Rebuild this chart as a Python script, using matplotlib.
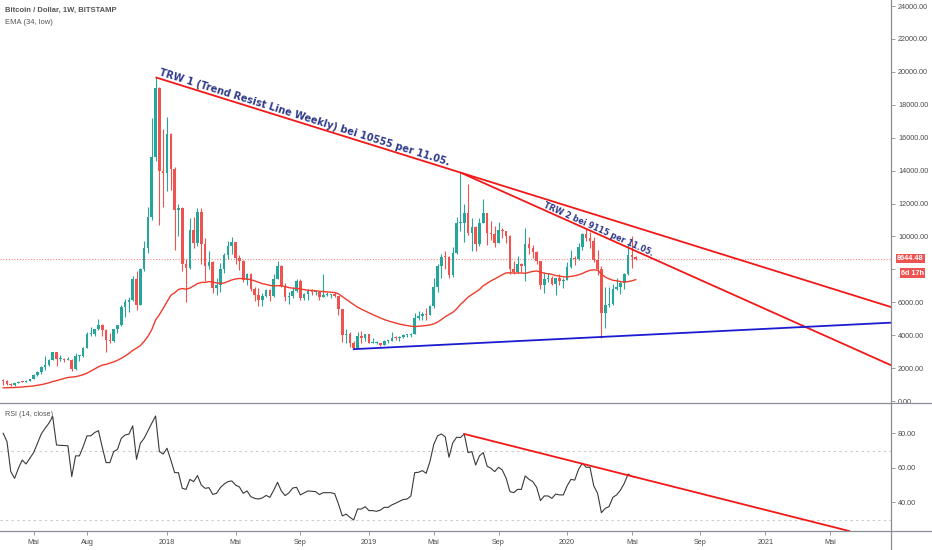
import numpy as np
import pandas as pd
import matplotlib
matplotlib.use("Agg")
import matplotlib.pyplot as plt
from matplotlib.lines import Line2D

# ---------------- data ----------------
start_week = "2017-03-06"          # first weekly candle (Monday)
first_open = 1270

closes = [1235, 1020, 965, 1090, 1185, 1180, 1245, 1350, 1560, 1760,
          2050, 2195, 2520, 2950, 2550, 2560, 2500, 2520, 1920, 2750,
          2760, 3230, 4060, 4090, 4350, 4600, 4330, 3700, 3650, 4380,
          4600, 5690, 6010, 6150, 7400, 5850, 8030, 9300, 11200, 14800,
          19000, 14000, 13880, 16200, 14100, 11600, 11750, 8300, 8100, 10400,
          9600, 11500, 9550, 8200, 8450, 6850, 7030, 8000, 8900, 9400,
          9650, 8700, 8500, 7350, 7700, 6780, 6450, 6150, 6350, 6750,
          6350, 7400, 8200, 7000, 6300, 6400, 6700, 7300, 6250, 6500,
          6700, 6600, 6600, 6300, 6450, 6450, 6480, 6350, 5600, 4000,
          4100, 3550, 3230, 3950, 3850, 4050, 3520, 3540, 3550, 3420,
          3650, 3670, 3850, 3800, 3900, 4000, 4000, 4100, 5050, 5150,
          5300, 5250, 5750, 6950, 8200, 8750, 8730, 7650, 8970, 10800,
          10800, 11450, 10200, 10550, 9550, 10800, 11400, 10200, 10150, 9600,
          10400, 10300, 10000, 8050, 7850, 8300, 8200, 9550, 9300, 9050,
          8500, 7050, 7400, 7500, 7100, 7500, 7300, 7350, 8150, 8700,
          8600, 9350, 10150, 9900, 9700, 8550, 8050, 5350, 5850, 5900,
          6800, 6900, 7150, 7700, 8900, 8720, 8644.48]

highs = [1330, 1260, 1120, 1100, 1210, 1210, 1250, 1355, 1640, 1850,
         2100, 2760, 2560, 2975, 2980, 2770, 2600, 2650, 2550, 2910,
         2810, 3270, 4200, 4480, 4370, 4980, 4700, 4380, 4120, 4400,
         4620, 5850, 6180, 6300, 7600, 7880, 8100, 9700, 11800, 17200,
         19666, 19100, 16500, 17250, 16300, 14200, 12000, 11800, 8600, 11100,
         11200, 11700, 11700, 9900, 9100, 8500, 7500, 8400, 9000, 9750,
         9950, 9650, 8900, 8550, 7750, 7780, 6900, 6850, 6550, 6800,
         6800, 7700, 8500, 8250, 7150, 6600, 6900, 7400, 7400, 6550,
         6800, 6800, 6700, 6700, 7700, 6600, 6500, 6600, 6400, 5600,
         4400, 4200, 3620, 4200, 4250, 4100, 4100, 3800, 3620, 3550,
         3700, 3700, 4200, 3950, 3950, 4050, 4100, 4150, 5350, 5450,
         5400, 5650, 5850, 7450, 8350, 8950, 9100, 8800, 9350, 11200,
         13880, 12000, 13200, 11100, 10650, 11100, 12300, 11450, 10950, 10650,
         10900, 10500, 10350, 10100, 8500, 8800, 8400, 10500, 9950, 9500,
         9100, 8500, 7850, 7750, 7600, 7500, 7700, 7500, 8450, 9200,
         8800, 9600, 10200, 10500, 10250, 9950, 9200, 8200, 6950, 6950,
         7100, 7450, 7300, 7750, 9450, 10050, 8800]

lows = [975, 960, 890, 915, 1075, 1160, 1165, 1230, 1350, 1540,
        1660, 1900, 2100, 2500, 2100, 2450, 2350, 2480, 1830, 1880,
        2440, 2680, 3200, 3950, 3950, 4300, 3950, 2970, 3500, 3600,
        4150, 4550, 5100, 5400, 6100, 5500, 5850, 7900, 9000, 11000,
        14600, 10700, 11800, 12750, 12800, 9200, 10000, 7900, 6000, 8000,
        9300, 9400, 8350, 7300, 8000, 6550, 6450, 6600, 7800, 8650,
        8950, 8350, 7950, 7250, 7050, 6700, 6100, 5800, 5780, 6300,
        6100, 6300, 7400, 6900, 6100, 5900, 6250, 6650, 6150, 6150,
        6150, 6450, 6450, 6150, 6300, 6350, 6250, 6300, 5200, 3600,
        3500, 3300, 3150, 3200, 3550, 3650, 3500, 3500, 3450, 3360,
        3380, 3550, 3650, 3700, 3650, 3800, 3900, 3900, 4100, 4900,
        4950, 4950, 5250, 5650, 6600, 7500, 8000, 7450, 7550, 8950,
        10350, 9650, 10100, 9100, 9100, 9400, 10800, 9450, 9800, 9350,
        9600, 9900, 9600, 7700, 7700, 7800, 7850, 7300, 8950, 8700,
        8350, 6800, 6550, 7250, 7050, 6450, 7050, 6850, 7350, 8100,
        8250, 8550, 9150, 9700, 9300, 8450, 7650, 3850, 4450, 5700,
        5850, 6750, 6500, 6800, 7650, 8100, 8550]

rsi = [80.0, 75.2, 57.8, 53.9, 59.7, 64.5, 62.2, 65.5, 68.8, 74.2,
       79.6, 82.9, 85.8, 89.7, 73.2, 73.0, 72.9, 72.7, 54.9, 66.9,
       66.9, 72.3, 78.5, 78.5, 80.4, 81.5, 72.0, 63.0, 63.0, 69.4,
       70.7, 77.1, 79.0, 79.5, 84.3, 64.9, 74.2, 77.1, 81.5, 85.8,
       90.0, 69.4, 68.0, 71.3, 64.5, 57.2, 57.2, 48.1, 47.5, 53.3,
       52.0, 55.5, 50.0, 48.1, 48.5, 44.6, 45.2, 48.5, 50.6, 52.0,
       52.4, 50.0, 48.9, 45.2, 46.6, 43.3, 42.3, 41.9, 42.5, 44.0,
       42.9, 47.0, 51.6, 46.6, 43.9, 45.5, 48.3, 48.7, 44.3, 45.5,
       46.6, 46.4, 46.2, 44.5, 45.6, 45.6, 45.6, 45.0, 39.0, 32.1,
       33.2, 31.3, 29.8, 36.1, 36.1, 37.5, 35.2, 35.2, 34.8, 35.5,
       37.1, 37.1, 38.5, 39.5, 40.6, 41.6, 41.9, 43.7, 57.2, 57.4,
       58.4, 56.8, 63.6, 73.5, 78.5, 79.6, 78.0, 66.1, 74.5, 77.7,
       77.5, 79.6, 68.8, 69.4, 61.6, 66.9, 68.8, 61.0, 59.7, 57.8,
       60.3, 58.7, 53.9, 46.2, 45.6, 47.5, 47.5, 55.3, 53.3, 52.0,
       48.7, 41.0, 43.7, 43.7, 42.3, 44.8, 44.3, 44.3, 49.5, 53.3,
       52.9, 59.1, 62.6, 60.3, 60.3, 49.5, 45.2, 34.0, 36.5, 37.5,
       42.9, 44.3, 47.1, 51.0, 56.4, 55.0, 54.5]

ema_length = 34
ema_seed = 790                     # EMA(34, low) value before the first visible bar
last_price = 8644.48
countdown = "6d 17h"

# trend lines: (week index, value) anchors
trw1_pts = [(40, 19666), (166, 10555)]
trw2_pts = [(120, 13880), (166, 9115)]
support_pts = [(92, 3150), (233, 4760)]
rsi_line_pts = [(121, 79.6), (222, 23.4)]

trw1_text = "TRW 1 (Trend Resist Line Weekly) bei 10555 per 11.05."
trw2_text = "TRW 2 bei 9115 per 11.05."

tick_dates = ["2017-05-01", "2017-08-07", "2018-01-01", "2018-05-07", "2018-09-03",
              "2019-01-07", "2019-05-06", "2019-09-02", "2020-01-06", "2020-05-04",
              "2020-09-07", "2021-01-04", "2021-05-03"]
tick_labels = ["Mai", "Aug", "2018", "Mai", "Sep", "2019", "Mai", "Sep", "2020",
               "Mai", "Sep", "2021", "Mai"]
price_ticks = list(range(0, 24001, 2000))
hidden_price_tick = 8000           # covered by the countdown label in the reference
rsi_ticks = [40, 60, 80]

# ---------------- derived ----------------
closes = np.array(closes, float)
highs = np.array(highs, float)
lows = np.array(lows, float)
opens = np.r_[first_open, closes[:-1]]
n = len(closes)
xs = np.arange(n)

alpha = 2.0 / (ema_length + 1)
ema = []
prev = ema_seed
for v in lows:
    prev = prev + alpha * (v - prev)
    ema.append(prev)

t0 = pd.Timestamp(start_week)
tick_pos = [(pd.Timestamp(d) - t0).days / 7.0 for d in tick_dates]

# ---------------- figure ----------------
W, H = 932, 550
fig = plt.figure(figsize=(W / 100, H / 100), dpi=100)
fig.patch.set_facecolor("white")
plt.rcParams["font.family"] = ["Liberation Sans", "DejaVu Sans"]

x_right = 891 / W
y_sep = 1 - 402.7 / H
y_bot = 1 - 531 / H
ax = fig.add_axes([0, y_sep, x_right, 1 - y_sep])
ax2 = fig.add_axes([0, y_bot, x_right, y_sep - y_bot], sharex=ax)

XMIN, XMAX = -0.83, 233.0
ax.set_xlim(XMIN, XMAX)
ax.set_ylim(-103, 24365)
ax2.set_ylim(23.4, 97.7)

up_c, dn_c = "#26a69a", "#ef5350"
cols = [up_c if c >= o else dn_c for o, c in zip(opens, closes)]
ax.vlines(xs, lows, highs, colors=cols, lw=0.8, zorder=3)
body_b = np.minimum(opens, closes)
body_h = np.maximum(np.abs(closes - opens), 60)
ax.bar(xs, body_h, bottom=body_b, width=0.68, color=cols, lw=0, zorder=4)

ax.plot(xs, ema, color="#ef3b2c", lw=1.0, zorder=5)

ax.axhline(last_price, color="#f4878a", lw=0.8, ls=(0, (1, 1.5)), zorder=2)

def line_vals(pts, x):
    (x1, y1), (x2, y2) = pts
    return y1 + (np.asarray(x, float) - x1) * (y2 - y1) / (x2 - x1)

red_line = "#f21818"
for pts in (trw1_pts, trw2_pts):
    xx = np.array([pts[0][0], XMAX + 2])
    ax.plot(xx, line_vals(pts, xx), color=red_line, lw=1.3, zorder=6, solid_capstyle="butt")
xx = np.array([support_pts[0][0], XMAX + 2])
ax.plot(xx, line_vals(support_pts, xx), color="#1b1bd1", lw=1.3, zorder=6)

def disp_angle(a, pts):
    p = a.transData.transform([pts[0], pts[1]])
    return np.degrees(np.arctan2(p[1][1] - p[0][1], p[1][0] - p[0][0]))

txt_c = "#2e3a8a"
x_t1 = 40.85
ax.annotate(trw1_text, xy=(x_t1, line_vals(trw1_pts, x_t1)), xytext=(0, 3.2),
            textcoords="offset pixels", rotation=disp_angle(ax, trw1_pts),
            rotation_mode="anchor", ha="left", va="baseline", fontsize=7.0,
            fontweight="bold", color=txt_c, family="DejaVu Sans", zorder=7)
x_t2 = 141.7
ax.annotate(trw2_text, xy=(x_t2, line_vals(trw2_pts, x_t2)), xytext=(0, 2.5),
            textcoords="offset pixels", rotation=disp_angle(ax, trw2_pts),
            rotation_mode="anchor", ha="left", va="baseline", fontsize=5.8,
            fontweight="bold", color=txt_c, family="DejaVu Sans", zorder=7)

# RSI panel
ax2.plot(xs, rsi, color="#3a3a3a", lw=0.8, zorder=3)
for lvl in (70, 30):
    ax2.axhline(lvl, color="#c9c9c9", lw=0.8, ls=(0, (2, 3)), zorder=1)
xx = np.array([rsi_line_pts[0][0], rsi_line_pts[1][0]])
ax2.plot(xx, line_vals(rsi_line_pts, xx), color=red_line, lw=1.3, zorder=4)

# axes styling
axis_c = "#8a8d96"
lab_c = "#4a4a4a"
for a in (ax, ax2):
    for s in a.spines.values():
        s.set_visible(False)
    a.yaxis.tick_right()
    a.tick_params(axis="y", right=True, left=False, length=3, width=0.6,
                  color=axis_c, labelsize=5.2, labelcolor=lab_c, pad=2)
    a.set_facecolor("white")

ax.set_yticks(price_ticks)
ax.set_yticklabels(["" if v == hidden_price_tick else f"{v:.2f}" for v in price_ticks])
ax.tick_params(axis="x", bottom=False, labelbottom=False)
ax2.set_yticks(rsi_ticks)
ax2.set_yticklabels([f"{v:.2f}" for v in rsi_ticks])
ax2.set_xticks(tick_pos)
ax2.set_xticklabels(tick_labels)
ax2.tick_params(axis="x", bottom=True, length=3, width=0.6, color=axis_c,
                labelsize=5.2, labelcolor=lab_c, pad=3)

# panel separators and axis lines
fig.add_artist(Line2D([0, 1], [y_sep, y_sep], transform=fig.transFigure, color=axis_c, lw=0.9))
fig.add_artist(Line2D([0, 1], [y_bot, y_bot], transform=fig.transFigure, color=axis_c, lw=0.9))
fig.add_artist(Line2D([x_right, x_right], [0, 1], transform=fig.transFigure, color=axis_c, lw=0.9))

# price label boxes (placed in pixel offsets below the price level)
ytr = ax.get_yaxis_transform()
ax.annotate(f"{last_price:.2f}", xy=(1.0, last_price), xycoords=ytr,
            xytext=(19.5, 0), textcoords="offset pixels", ha="center", va="center",
            fontsize=5.2, fontweight="bold", color="white", annotation_clip=False,
            bbox=dict(boxstyle="square,pad=0.15", fc="#ef5350", ec="none"), zorder=10)
ax.annotate(countdown, xy=(1.0, last_price), xycoords=ytr,
            xytext=(21.5, -14.5), textcoords="offset pixels", ha="center", va="center",
            fontsize=5.2, fontweight="bold", color="white", annotation_clip=False,
            bbox=dict(boxstyle="square,pad=0.18", fc="#ef5350", ec="none"), zorder=10)

# legends / titles
fig.text(5 / W, 1 - 10 / H, "Bitcoin / Dollar, 1W, BITSTAMP", fontsize=5.5,
         fontweight="bold", color="#555555", va="center", ha="left")
fig.text(5 / W, 1 - 22 / H, "EMA (34, low)", fontsize=5.5, color="#555555",
         va="center", ha="left")
fig.text(5 / W, 1 - 414 / H, "RSI (14, close)", fontsize=5.2, color="#555555",
         va="center", ha="left")

fig.savefig("out.png", dpi=100, facecolor="white")
